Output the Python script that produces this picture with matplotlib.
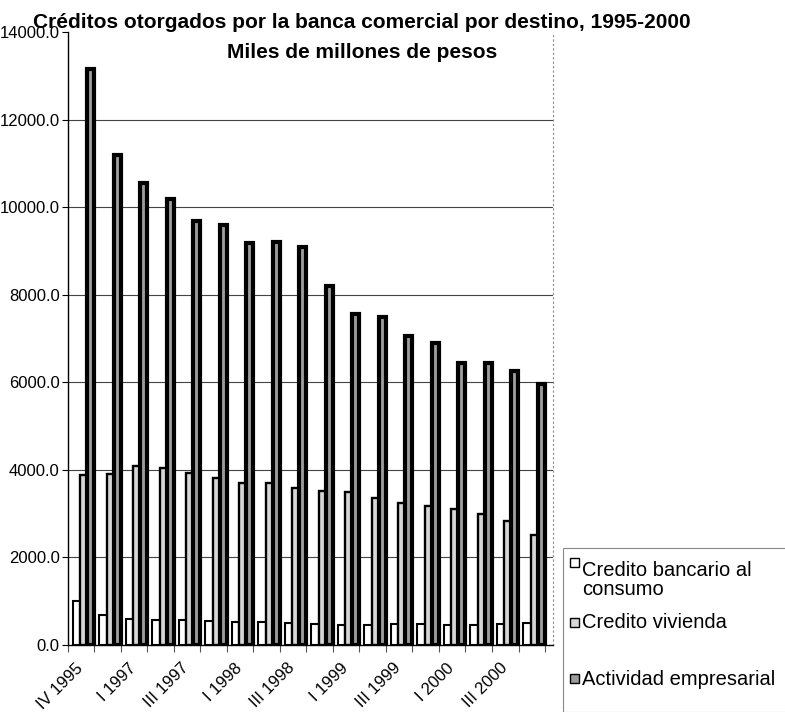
import numpy as np
import matplotlib
matplotlib.use('Agg')
import matplotlib.pyplot as plt
from matplotlib.patches import Rectangle

plt.rcParams['font.family'] = ['Liberation Sans', 'DejaVu Sans']

# Trimestres (solo se rotulan uno de cada dos)
trimestres = ['IV 1995', 'IV 1996', 'I 1997', 'II 1997', 'III 1997', 'IV 1997',
              'I 1998', 'II 1998', 'III 1998', 'IV 1998', 'I 1999', 'II 1999',
              'III 1999', 'IV 1999', 'I 2000', 'II 2000', 'III 2000', 'IV 2000']

# Miles de millones de pesos
consumo = [1000, 680, 590, 570, 570, 550, 520, 520, 500,
           480, 460, 460, 470, 470, 450, 460, 470, 500]
vivienda = [3880, 3900, 4090, 4050, 3930, 3820, 3700, 3690, 3590,
            3520, 3490, 3360, 3240, 3170, 3100, 2990, 2830, 2510]
empresarial = [13150, 11200, 10550, 10180, 9680, 9590, 9180, 9200, 9090,
               8200, 7560, 7500, 7050, 6900, 6450, 6450, 6250, 5950]

series = ['Credito bancario al\nconsumo', 'Credito vivienda', 'Actividad empresarial']
colores = ['white', '#d6d6d6', '#9c9c9c']
bordes = [1.5, 1.7, 3.0]

fig = plt.figure(figsize=(7.85, 7.12), dpi=100)
ax = fig.add_axes([0.0866, 0.0941, 0.6178, 0.861])

x = np.arange(len(trimestres))
ancho = 0.27
desplaz = [-0.18, 0.09, 0.36]
for datos, dx, c, lw in zip([consumo, vivienda, empresarial], desplaz, colores, bordes):
    ax.bar(x + dx, datos, ancho, color=c, edgecolor='black', linewidth=lw, zorder=3)

ax.set_xlim(-0.5, 17.8)
ax.set_ylim(0, 14000)
ax.set_yticks(np.arange(0, 14001, 2000))
ax.set_yticklabels(['%.1f' % v for v in np.arange(0, 14001, 2000)], fontsize=12)
ax.tick_params(axis='y', length=4, pad=2)

ax.set_xticks(x[::2] - 0.22)
ax.set_xticklabels(trimestres[::2], rotation=45, ha='right', va='top',
                   rotation_mode='anchor', fontsize=12)
ax.tick_params(axis='x', length=0, pad=11)
ax.set_xticks(np.arange(-0.5, 18, 1), minor=True)
ax.tick_params(axis='x', which='minor', length=5, width=0.8, color='#555555')

for v in range(2000, 12001, 2000):
    ax.axhline(v, color='#444444', linewidth=0.8, zorder=1)

ax.spines['top'].set_visible(False)
ax.spines['right'].set_linestyle((0, (1, 3)))
ax.spines['right'].set_color('#888888')
ax.spines['right'].set_linewidth(0.8)
ax.spines['left'].set_linewidth(1.0)
ax.spines['bottom'].set_linewidth(1.0)

fig.text(362 / 785, 1 - 28 / 712, 'Créditos otorgados por la banca comercial por destino, 1995-2000',
         ha='center', va='baseline', fontsize=15, fontweight='bold')
fig.text(362 / 785, 1 - 58 / 712, 'Miles de millones de pesos',
         ha='center', va='baseline', fontsize=15, fontweight='bold')

# Leyenda dibujada a mano
fig.patches.append(Rectangle((563 / 785, 0), 0.5, 1 - 548 / 712, transform=fig.transFigure,
                             facecolor='white', edgecolor='#888888', linewidth=0.8))
ys_caja = [562, 622, 678]
ys_texto = [595, 628, 685]
for nombre, c, yc, yt in zip(series, colores, ys_caja, ys_texto):
    fig.patches.append(Rectangle((570 / 785, 1 - (yc + 5) / 712), 9 / 785, 9 / 712,
                                 transform=fig.transFigure, facecolor=c,
                                 edgecolor='black', linewidth=1.0))
    fig.text(582 / 785, 1 - yt / 712, nombre, ha='left', va='baseline',
             fontsize=14.5, linespacing=1.0)

fig.savefig('out.png', dpi=100)
